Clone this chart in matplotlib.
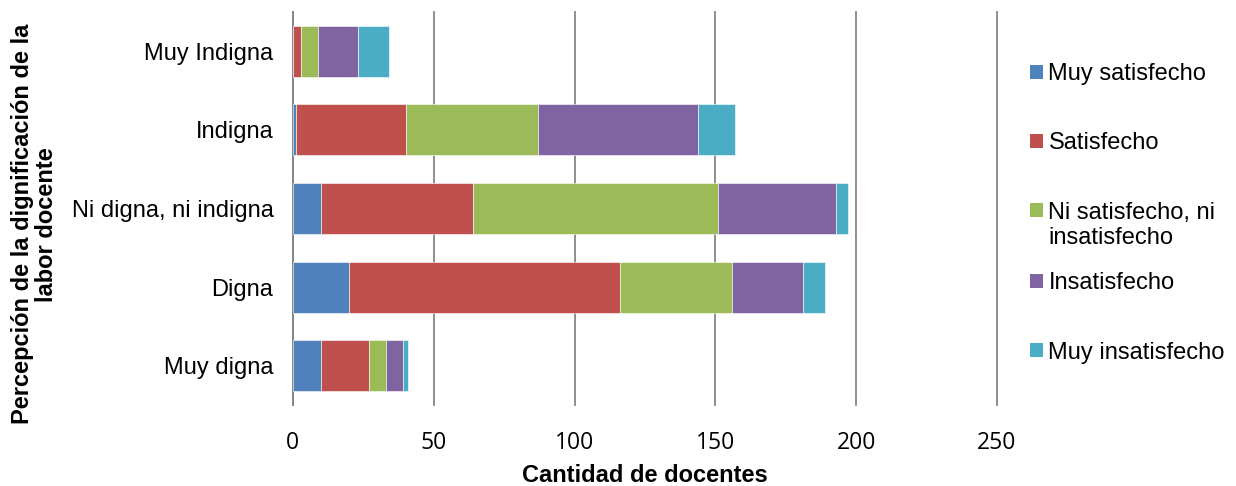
import matplotlib.pyplot as plt
import matplotlib.patches as mpatches
from matplotlib.legend_handler import HandlerPatch
import numpy as np

plt.rcParams['font.family'] = ['Liberation Sans', 'DejaVu Sans']

# categorias del eje y (de abajo hacia arriba)
categorias = ['Muy digna', 'Digna', 'Ni digna, ni indigna', 'Indigna', 'Muy Indigna']

# cantidad de docentes por nivel de satisfaccion
muy_satisfecho = [10, 20, 10, 1, 0]
satisfecho = [17, 96, 54, 39, 3]
ni_ni = [6, 40, 87, 47, 6]
insatisfecho = [6, 25, 42, 57, 14]
muy_insatisfecho = [2, 8, 4, 13, 11]

series = [muy_satisfecho, satisfecho, ni_ni, insatisfecho, muy_insatisfecho]
nombres = ['Muy satisfecho', 'Satisfecho', 'Ni satisfecho, ni\ninsatisfecho',
           'Insatisfecho', 'Muy insatisfecho']
colores = ['#4F81BD', '#C0504D', '#9BBB59', '#8064A2', '#4BACC6']

FS = 17

fig = plt.figure(figsize=(12.36, 4.86), dpi=100)
ax = fig.add_axes([0.237, 0.1667, 0.5696, 0.8086])

y = np.arange(len(categorias))
izq = np.zeros(len(categorias))
for vals, nom, col in zip(series, nombres, colores):
    ax.barh(y, vals, left=izq, height=0.65, color=col, label=nom,
            edgecolor='white', linewidth=0.4, zorder=3)
    izq += np.array(vals)

ax.set_xlim(0, 250)
ax.set_ylim(-0.5, 4.5)
ax.set_xticks(range(0, 251, 50))
ax.set_yticks(y)
ax.set_yticklabels(categorias, fontsize=FS)
ax.tick_params(axis='both', length=0, colors='black')
ax.tick_params(axis='x', pad=19, labelsize=16.5)
ax.tick_params(axis='y', pad=14)
for lbl in ax.get_xticklabels():
    lbl.set_fontfamily('Open Sans')

ax.xaxis.grid(True, color='#868686', linewidth=1.3, zorder=0)
for gl in ax.get_xgridlines():
    gl.set_clip_on(False)
for s in ['top', 'right', 'bottom']:
    ax.spines[s].set_visible(False)
ax.spines['left'].set_color('#868686')
ax.spines['left'].set_linewidth(1.3)

ax.set_xlabel('Cantidad de docentes', fontsize=FS, fontweight='bold')
ax.xaxis.set_label_coords(0.5, -0.151)
ax.set_ylabel('Percepción de la dignificación de la\nlabor docente', fontsize=FS,
              fontweight='bold', linespacing=1.05)
ax.yaxis.set_label_coords(-0.334, 0.46)


# cuadro de leyenda alineado con la primera linea del texto
def cuadro_arriba(legend, orig_handle, xdescent, ydescent, width, height, fontsize):
    return mpatches.Rectangle((-xdescent, -ydescent + fontsize * 0.65), width, height)


handles = [mpatches.Patch(facecolor=c) for c in colores]
estilo = dict(frameon=False, fontsize=FS, handlelength=0.55, handleheight=0.55,
              handletextpad=0.25, labelspacing=2.0, borderpad=0, borderaxespad=0,
              loc='upper left')
ley1 = fig.legend(handles=handles[:3], labels=nombres[:3],
                  bbox_to_anchor=(0.833, 0.870),
                  handler_map={handles[2]: HandlerPatch(patch_func=cuadro_arriba)},
                  **estilo)
ley2 = fig.legend(handles=handles[3:], labels=nombres[3:],
                  bbox_to_anchor=(0.833, 0.4395), **estilo)

fig.savefig('out.png', dpi=100)
